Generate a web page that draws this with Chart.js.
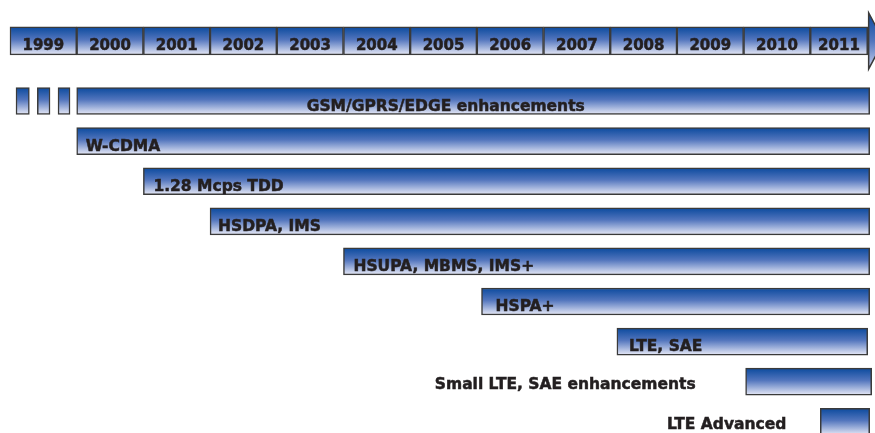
<!DOCTYPE html>
<html>
<head>
<meta charset="utf-8">
<script src="https://cdn.jsdelivr.net/npm/chart.js@4/dist/chart.umd.min.js"></script>
<style>
  html, body { margin: 0; padding: 0; background: #ffffff; }
  canvas { display: block; }
</style>
</head>
<body>
<canvas id="chart" width="875" height="433"></canvas>
<script>
// timeline header
const years = [1999, 2000, 2001, 2002, 2003, 2004, 2005, 2006, 2007, 2008, 2009, 2010, 2011];
const timelineEnd = 2011.86;

// three short marks inside 1999
const earlyStarts = [1999.09, 1999.41, 1999.72];
const earlyEnds = [1999.29, 1999.60, 1999.90];

// feature bars (start / end in years)
const features = [
  'GSM/GPRS/EDGE enhancements',
  'W-CDMA',
  '1.28 Mcps TDD',
  'HSDPA, IMS',
  'HSUPA, MBMS, IMS+',
  'HSPA+',
  'LTE, SAE',
  'Small LTE, SAE enhancements',
  'LTE Advanced'
];
const featureStarts = [2000.0, 2000.0, 2001.0, 2002.0, 2004.0, 2006.07, 2008.1, 2010.03, 2011.15];
const featureEnds = [2011.89, 2011.89, 2011.89, 2011.89, 2011.89, 2011.89, 2011.86, 2011.92, 2011.89];
const headerRow = 0;
const featureRows = [1.5, 2.5, 3.5, 4.5, 5.5, 6.5, 7.5, 8.5, 9.5];

// how each feature label sits relative to its bar start (px)
const labelDx = [230, 9, 10, 8, 10, 14, 12, -50, -34];

const YEAR_FONT = 'bold 15px "DejaVu Sans", Verdana, sans-serif';
const LABEL_FONT = 'bold 15.5px "DejaVu Sans", Verdana, sans-serif';
const TEXT = '#231f20';
const EDGE = '#3a3a3a';
const MID_BLUE = '#5275bd';

// vertical blue gradient for a bar at a given row
function barGradient(chart, row, thickness) {
  const y = chart.scales.y ? chart.scales.y.getPixelForValue(row) : NaN;
  if (!isFinite(y)) return MID_BLUE;
  const g = chart.ctx.createLinearGradient(0, y - thickness / 2, 0, y + thickness / 2);
  g.addColorStop(0, '#0b4a9e');
  g.addColorStop(0.45, MID_BLUE);
  g.addColorStop(1, '#e8eaf7');
  return g;
}

function fillFor(thickness) {
  return (ctx) => {
    const raw = ctx.raw;
    if (!raw) return MID_BLUE;
    return barGradient(ctx.chart, raw.y, thickness);
  };
}

const headerData = years.map((y, i) => ({
  x: [y, i === years.length - 1 ? timelineEnd : y + 1],
  y: headerRow
}));
const earlyData = earlyStarts.map((s, i) => ({ x: [s, earlyEnds[i]], y: featureRows[0] }));
const featureData = features.map((f, i) => ({ x: [featureStarts[i], featureEnds[i]], y: featureRows[i] }));

// heavier text, closer to the Verdana bold of the original
function boldText(ctx, str, x, y) {
  ctx.fillText(str, x, y);
  ctx.strokeText(str, x, y);
}

// arrow head at the end of the timeline + all the texts
const timelinePlugin = {
  id: 'timeline',
  beforeDatasetsDraw(chart) {
    const { ctx, scales } = chart;
    const x0 = scales.x.getPixelForValue(timelineEnd) + 1;
    const yc = scales.y.getPixelForValue(headerRow);
    const g = ctx.createLinearGradient(0, yc - 28, 0, yc + 28);
    g.addColorStop(0, '#0b4a9e');
    g.addColorStop(0.5, MID_BLUE);
    g.addColorStop(1, '#c9d0ee');
    ctx.save();
    ctx.beginPath();
    ctx.moveTo(x0, yc - 28);
    ctx.lineTo(x0 + 15, yc);
    ctx.lineTo(x0, yc + 28);
    ctx.closePath();
    ctx.fillStyle = g;
    ctx.fill();
    ctx.lineWidth = 1.5;
    ctx.strokeStyle = EDGE;
    ctx.stroke();
    ctx.restore();
  },
  afterDatasetsDraw(chart) {
    const { ctx } = chart;
    ctx.save();
    ctx.fillStyle = TEXT;
    ctx.strokeStyle = TEXT;
    ctx.lineWidth = 0.5;
    ctx.textBaseline = 'alphabetic';

    // year labels
    ctx.font = YEAR_FONT;
    chart.getDatasetMeta(0).data.forEach((el, i) => {
      ctx.textAlign = 'center';
      const cx = (el.x + el.base) / 2;
      boldText(ctx, String(years[i]), cx, el.y + 9);
    });

    // feature labels
    ctx.font = LABEL_FONT;
    chart.getDatasetMeta(2).data.forEach((el, i) => {
      const left = Math.min(el.x, el.base);
      const dx = labelDx[i];
      if (dx < 0) {
        ctx.textAlign = 'right';
        boldText(ctx, features[i], left + dx, el.y + 7);
      } else {
        ctx.textAlign = 'left';
        boldText(ctx, features[i], left + dx, el.y + 9.5);
      }
    });
    ctx.restore();
  }
};

new Chart(document.getElementById('chart'), {
  type: 'bar',
  data: {
    datasets: [
      {
        label: 'years',
        data: headerData,
        grouped: false,
        barThickness: 28,
        backgroundColor: fillFor(28),
        borderColor: EDGE,
        borderWidth: 1.5,
        borderSkipped: false
      },
      {
        label: 'early',
        data: earlyData,
        grouped: false,
        barThickness: 27,
        backgroundColor: fillFor(27),
        borderColor: EDGE,
        borderWidth: 1.5,
        borderSkipped: false
      },
      {
        label: 'features',
        data: featureData,
        grouped: false,
        barThickness: 27,
        backgroundColor: fillFor(27),
        borderColor: EDGE,
        borderWidth: 1.5,
        borderSkipped: false
      }
    ]
  },
  options: {
    indexAxis: 'y',
    responsive: false,
    animation: false,
    layout: { padding: 0 },
    scales: {
      x: { type: 'linear', min: 1998.85, max: 2011.97, display: false, offset: false },
      y: { type: 'linear', min: -1.02, max: 9.78, reverse: true, display: false, offset: false }
    },
    plugins: {
      legend: { display: false },
      tooltip: { enabled: false }
    }
  },
  plugins: [timelinePlugin]
});
</script>
</body>
</html>
